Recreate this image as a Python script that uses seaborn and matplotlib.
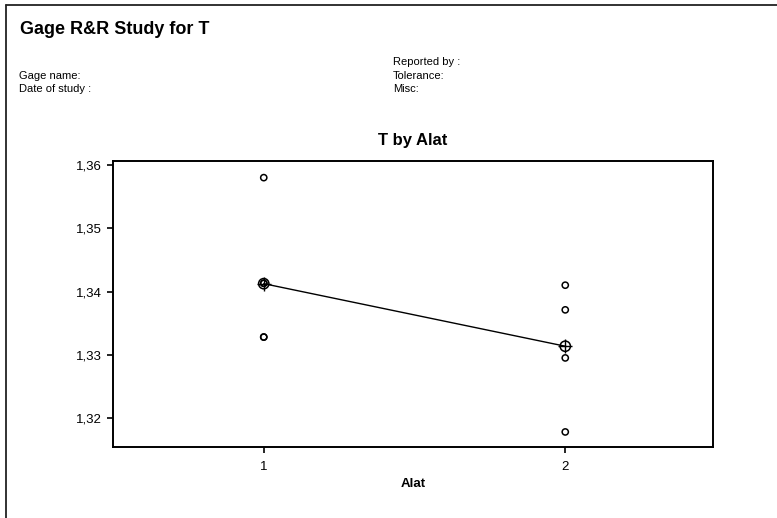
import numpy as np
import pandas as pd
import matplotlib
matplotlib.use("Agg")
import matplotlib.pyplot as plt
from matplotlib.ticker import FuncFormatter
from matplotlib.lines import Line2D
import seaborn as sns

# Measurements of T for each Alat (gage) level
alat_1 = [1.3580, 1.3413, 1.3413, 1.3328, 1.3328]
alat_2 = [1.3410, 1.3371, 1.3295, 1.3178]
y_ticks = [1.32, 1.33, 1.34, 1.35, 1.36]
x_ticks = [1, 2]

df = pd.DataFrame({
    "Alat": [1] * len(alat_1) + [2] * len(alat_2),
    "T": alat_1 + alat_2,
})
means = df.groupby("Alat", as_index=False)["T"].mean()

sns.set_theme(style="white")
plt.rcParams["font.family"] = ["Liberation Sans", "DejaVu Sans"]
plt.rcParams["text.color"] = "black"

W, H = 777, 518
fig = plt.figure(figsize=(W / 100, H / 100), dpi=100)
ax = fig.add_axes([113 / W, 1 - 447 / H, 600 / W, 286 / H])

# Line connecting group means
sns.lineplot(data=df, x="Alat", y="T", estimator="mean", errorbar=None,
             color="black", lw=1.0, ax=ax, zorder=2)
# Individual observations
sns.scatterplot(data=df, x="Alat", y="T", marker="o", s=20,
                facecolor="none", edgecolor="black", linewidth=1.1,
                ax=ax, zorder=3)
# Mean symbols: circle with cross
sns.scatterplot(data=means, x="Alat", y="T", marker="o", s=55,
                facecolor="none", edgecolor="black", linewidth=1.1,
                ax=ax, zorder=4)
sns.scatterplot(data=means, x="Alat", y="T", marker="+", s=110,
                color="black", linewidth=1.0, ax=ax, zorder=4)

ax.set_xlim(0.5, 2.49)
ax.set_ylim(1.31542, 1.36063)
ax.set_xticks(x_ticks)
ax.set_yticks(y_ticks)
ax.yaxis.set_major_formatter(FuncFormatter(lambda v, p: f"{v:.2f}".replace(".", ",")))
ax.tick_params(axis="both", direction="out", length=4, width=1.2,
               labelsize=9.5, color="black", labelcolor="black",
               bottom=True, left=True, pad=4)
ax.tick_params(axis="x", pad=6)
for s in ax.spines.values():
    s.set_color("black")
    s.set_linewidth(1.4)
ax.set_xlabel("Alat", fontsize=9.5, fontweight="bold", labelpad=4, color="black")
ax.set_ylabel("")
ax.set_title("T by Alat", fontsize=12, fontweight="bold", pad=11.5, color="black")

# Report header and page frame
fig.text(20 / W, 1 - 30 / H, "Gage R&R Study for T", fontsize=13,
         fontweight="bold", va="center", ha="left")
fig.text(393 / W, 1 - 62 / H, "Reported by :", fontsize=8, va="center", ha="left")
fig.text(393 / W, 1 - 76 / H, "Tolerance:", fontsize=8, va="center", ha="left")
fig.text(393 / W, 1 - 89 / H, "Misc:", fontsize=8, va="center", ha="left")
fig.text(19 / W, 1 - 76 / H, "Gage name:", fontsize=8, va="center", ha="left")
fig.text(19 / W, 1 - 89 / H, "Date of study :", fontsize=8, va="center", ha="left")

fig.add_artist(Line2D([6 / W, 1.0], [1 - 4.5 / H, 1 - 4.5 / H], color="#222222", lw=1.3,
                      transform=fig.transFigure))
fig.add_artist(Line2D([6 / W, 6 / W], [0, 1 - 4.5 / H], color="#222222", lw=1.3,
                      transform=fig.transFigure))

fig.savefig("out.png", dpi=100, facecolor="white")
